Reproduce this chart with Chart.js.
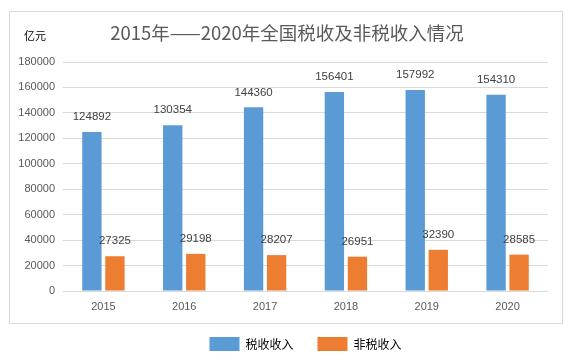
<!DOCTYPE html>
<html><head><meta charset="utf-8">
<script src="https://cdn.jsdelivr.net/npm/chart.js@4"></script>
<style>html,body{margin:0;padding:0;background:#fff;}#wrap{width:572px;height:355px;}</style>
</head><body><div id="wrap"><canvas id="c" width="572" height="355"></canvas></div>
<script>
const titleText = '2015年——2020年全国税收及非税收入情况';
const unitLabel = '亿元';
const categories = ['2015', '2016', '2017', '2018', '2019', '2020'];
const seriesNames = ['税收收入', '非税收入'];
const taxRevenue = [124892, 130354, 144360, 156401, 157992, 154310];
const nonTaxRevenue = [27325, 29198, 28207, 26951, 32390, 28585];
const yMin = 0, yMax = 180000, yStep = 20000;

const BLUE = '#5B9BD5', ORANGE = '#ED7D31';
const CJK = '"Noto Sans CJK SC", "Noto Sans", sans-serif';
const NUM = '"Liberation Sans", "Noto Sans", sans-serif';

const framePlugin = {
  id: 'frame',
  beforeDraw(chart) {
    const ctx = chart.ctx;
    ctx.save();
    ctx.fillStyle = '#ffffff';
    ctx.fillRect(0, 0, chart.width, chart.height);
    ctx.strokeStyle = '#d9d9d9';
    ctx.lineWidth = 1;
    ctx.strokeRect(9.5, 11.5, 553, 312);
    ctx.restore();
  },
  afterDraw(chart) {
    const ctx = chart.ctx;
    ctx.save();
    ctx.fillStyle = '#595959';
    ctx.font = '18.5px ' + CJK;
    ctx.textAlign = 'center';
    ctx.textBaseline = 'middle';
    ctx.fillText(titleText, 287, 33);
    ctx.fillStyle = '#000000';
    ctx.font = '11px ' + CJK;
    ctx.textAlign = 'left';
    ctx.fillText(unitLabel, 24, 36);
    ctx.restore();
  }
};

const valueLabelPlugin = {
  id: 'valueLabels',
  afterDatasetsDraw(chart) {
    const ctx = chart.ctx;
    ctx.save();
    ctx.fillStyle = '#404040';
    ctx.font = '11.5px ' + NUM;
    ctx.textAlign = 'center';
    ctx.textBaseline = 'middle';
    chart.data.datasets.forEach((ds, di) => {
      const meta = chart.getDatasetMeta(di);
      meta.data.forEach((bar, i) => {
        ctx.fillText(String(ds.data[i]), bar.x, bar.y - 15);
      });
    });
    ctx.restore();
  }
};

new Chart(document.getElementById('c'), {
  type: 'bar',
  data: {
    labels: categories,
    datasets: [
      { label: seriesNames[0], data: taxRevenue, backgroundColor: BLUE, categoryPercentage: 0.57, barPercentage: 0.84 },
      { label: seriesNames[1], data: nonTaxRevenue, backgroundColor: ORANGE, categoryPercentage: 0.57, barPercentage: 0.84 }
    ]
  },
  options: {
    responsive: false,
    animation: false,
    layout: { padding: { left: 8, right: 24, top: 62, bottom: 0 } },
    scales: {
      x: {
        grid: { display: false, drawTicks: false },
        border: { display: false },
        ticks: { color: '#595959', font: { family: NUM, size: 11 }, padding: 9 },
        afterFit(s) { s.height = 22; }
      },
      y: {
        min: yMin, max: yMax,
        grid: { color: '#d9d9d9', drawTicks: false },
        border: { display: false },
        ticks: {
          stepSize: yStep, color: '#595959', font: { family: NUM, size: 11 }, padding: 8,
          callback: (v) => String(v)
        },
        afterFit(s) { s.width = 55; }
      }
    },
    plugins: {
      title: { display: false },
      tooltip: { enabled: false },
      legend: {
        position: 'bottom',
        fullSize: false,
        maxHeight: 42,
        labels: {
          boxWidth: 30, boxHeight: 14, padding: 24,
          color: '#000000',
          font: { family: CJK, size: 12 }
        }
      }
    }
  },
  plugins: [framePlugin, valueLabelPlugin]
});
</script>
</body></html>
